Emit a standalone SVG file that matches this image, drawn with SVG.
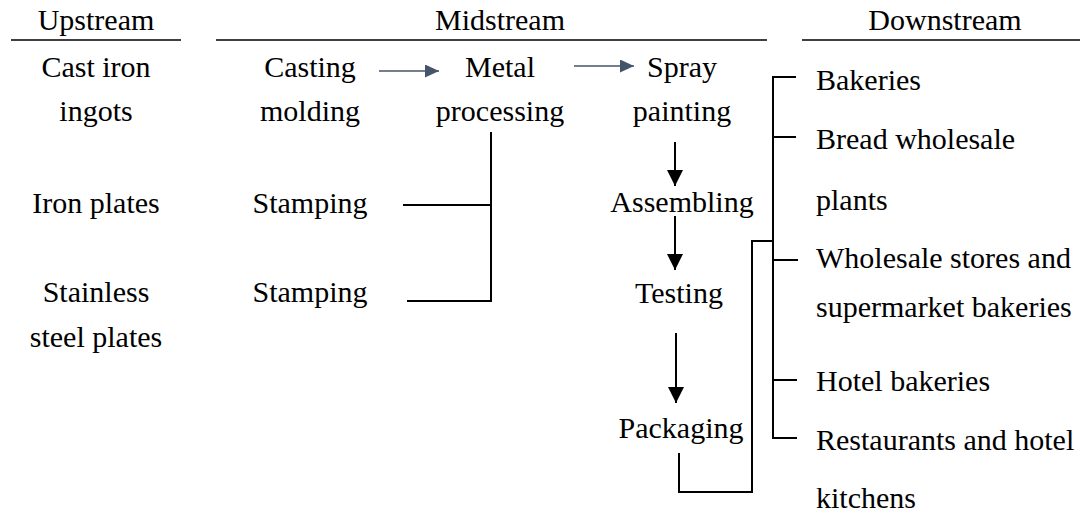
<svg xmlns="http://www.w3.org/2000/svg" width="1082" height="514" viewBox="0 0 1082 514">
<style>
.c{text-anchor:middle}
.hdr{stroke:#000;stroke-width:1.5;fill:none}
.ln{stroke:#000;stroke-width:2;fill:none}
.blue{stroke:#44546A;stroke-width:1.5;fill:none}
</style>
<defs>
<marker id="hb" markerUnits="userSpaceOnUse" markerWidth="16" markerHeight="14" refX="14" refY="6.5" orient="auto">
<path d="M0,0 L14,6.5 L0,13 Z" fill="#44546A"/>
</marker>
<marker id="hk" markerUnits="userSpaceOnUse" markerWidth="18" markerHeight="18" refX="16" refY="8" orient="auto">
<path d="M0,0 L16,8 L0,16 Z" fill="#000"/>
</marker>
</defs>
<rect width="1082" height="514" fill="#fff"/>
<g font-family="Liberation Serif" font-size="30" fill="#000">
<g id="headers">
<text class="c" x="96" y="30">Upstream</text>
<text class="c" x="500" y="30">Midstream</text>
<text class="c" x="945" y="30">Downstream</text>
<line class="hdr" x1="11" y1="40" x2="181" y2="40"/>
<line class="hdr" x1="216" y1="40" x2="767" y2="40"/>
<line class="hdr" x1="802" y1="40" x2="1080" y2="40"/>
</g>
<g id="castIron"><text class="c" x="96" y="77">Cast iron</text><text class="c" x="96" y="121">ingots</text></g>
<g id="ironPlates"><text class="c" x="96" y="213">Iron plates</text></g>
<g id="stainless"><text class="c" x="96" y="302">Stainless</text><text class="c" x="96" y="347">steel plates</text></g>
<g id="casting"><text class="c" x="310" y="77">Casting</text><text class="c" x="310" y="121">molding</text></g>
<g id="metal"><text class="c" x="500" y="77">Metal</text><text class="c" x="500" y="121">processing</text></g>
<g id="spray"><text class="c" x="682" y="77">Spray</text><text class="c" x="682" y="121">painting</text></g>
<g id="stamping1"><text class="c" x="310" y="213">Stamping</text></g>
<g id="stamping2"><text class="c" x="310" y="302">Stamping</text></g>
<g id="assembling"><text class="c" x="682" y="212">Assembling</text></g>
<g id="testing"><text class="c" x="679" y="303">Testing</text></g>
<g id="packaging"><text class="c" x="681" y="438">Packaging</text></g>
<g id="bakeries"><text x="816" y="90">Bakeries</text></g>
<g id="breadWholesale"><text x="816" y="149">Bread wholesale</text><text x="816" y="210">plants</text></g>
<g id="wholesaleStores"><text x="816" y="268">Wholesale stores and</text><text x="816" y="317">supermarket bakeries</text></g>
<g id="hotelBakeries"><text x="816" y="391">Hotel bakeries</text></g>
<g id="restaurants"><text x="816" y="450">Restaurants and hotel</text><text x="816" y="508">kitchens</text></g>
</g>
<g id="connectors">
<line class="blue" x1="379" y1="71" x2="439" y2="71" marker-end="url(#hb)"/>
<line class="blue" x1="574" y1="66" x2="634" y2="66" marker-end="url(#hb)"/>
<path class="ln" d="M491,132 V302"/>
<path class="ln" d="M403,205 H491"/>
<path class="ln" d="M407,301 H491"/>
<line class="ln" x1="675" y1="142" x2="675" y2="186" marker-end="url(#hk)"/>
<line class="ln" x1="675" y1="216" x2="675" y2="270" marker-end="url(#hk)"/>
<line class="ln" x1="676" y1="333" x2="676" y2="403" marker-end="url(#hk)"/>
<path class="ln" d="M679,453 V492 H752 V241 H772"/>
<path class="ln" d="M796,77 H773 V438 H797"/>
<path class="ln" d="M773,137 H796"/>
<path class="ln" d="M773,260 H798"/>
<path class="ln" d="M773,380 H797"/>
</g>
</svg>
